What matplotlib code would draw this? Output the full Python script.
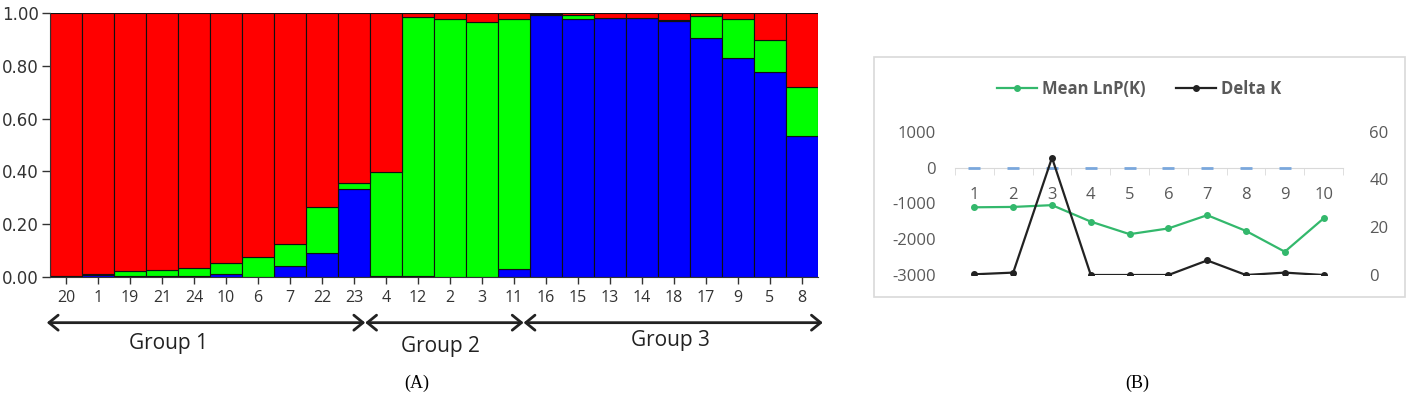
import matplotlib.pyplot as plt
from matplotlib.patches import Rectangle
from matplotlib.lines import Line2D
from matplotlib.ticker import FixedLocator
import numpy as np

# (A) ancestry proportions per sample, K=3
samples = ['20', '1', '19', '21', '24', '10', '6', '7', '22', '23',
           '4', '12', '2', '3', '11',
           '16', '15', '13', '14', '18', '17', '9', '5', '8']
blue_q = [0.003, 0.008, 0.005, 0.003, 0.005, 0.012, 0.0, 0.042, 0.090, 0.332,
          0.005, 0.005, 0.0, 0.0, 0.030,
          0.992, 0.978, 0.980, 0.980, 0.971, 0.906, 0.828, 0.778, 0.535]
green_q = [0.002, 0.002, 0.016, 0.025, 0.028, 0.040, 0.075, 0.082, 0.176, 0.025,
           0.391, 0.978, 0.976, 0.967, 0.946,
           0.003, 0.014, 0.002, 0.002, 0.003, 0.084, 0.148, 0.120, 0.183]
groups = ['Group 1', 'Group 2', 'Group 3']

# (B) Evanno plot
k_values = [1, 2, 3, 4, 5, 6, 7, 8, 9, 10]
mean_lnp = [-1110, -1100, -1050, -1510, -1860, -1700, -1330, -1770, -2350, -1420]
delta_k = [0.3, 1.0, 49.1, 0.0, 0.0, 0.0, 6.1, 0.0, 1.0, 0.0]
zero_series = [0, 0, 0, 0, 0, 0, 0, 0, 0]

W, H = 1413, 399
fig = plt.figure(figsize=(W / 100, H / 100), dpi=100)


def px_axes(x0, y0, x1, y1):
    return fig.add_axes([x0 / W, 1 - y1 / H, (x1 - x0) / W, (y1 - y0) / H])


# ---- panel A ----
blue = np.array(blue_q)
green = np.array(green_q)
red = 1 - blue - green
x = np.arange(len(samples))

ax = px_axes(50, 13, 818, 277)
ax.bar(x, blue, width=1, color='#0000ff', edgecolor='#111111', linewidth=0.8)
ax.bar(x, green, width=1, bottom=blue, color='#00ff00', edgecolor='#111111', linewidth=0.8)
ax.bar(x, red, width=1, bottom=blue + green, color='#ff0000', edgecolor='#111111', linewidth=0.8)
ax.set_xlim(-0.5, len(samples) - 0.5)
ax.set_ylim(0, 1)
ax.set_yticks([0, 0.2, 0.4, 0.6, 0.8, 1.0])
ax.set_yticklabels(['%.2f' % v for v in [0, 0.2, 0.4, 0.6, 0.8, 1.0]],
                   family=['Liberation Sans Narrow', 'DejaVu Sans Condensed', 'DejaVu Sans'],
                   fontsize=12, color='#333333')
ax.set_xticks(x)
ax.set_xticklabels(samples, family='Open Sans', fontsize=11.5, color='#333333')
ax.tick_params(axis='y', length=6, width=1, color='#333333', pad=2)
ax.tick_params(axis='x', length=5, width=1, color='#333333', pad=4)
ax.spines['top'].set_visible(False)
ax.spines['right'].set_visible(False)
ax.spines['left'].set_color('#333333')
ax.spines['bottom'].set_color('#333333')

trans = ax.get_xaxis_transform()
group_edges = [-0.6, 9.35, 14.3, 23.65]
group_label_x = [3.2, 11.7, 18.9]
group_label_y = [-0.25, -0.265, -0.24]
for i, name in enumerate(groups):
    ax.annotate('', xy=(group_edges[i + 1], -0.173), xytext=(group_edges[i], -0.173),
                xycoords=trans, textcoords=trans, annotation_clip=False,
                arrowprops=dict(arrowstyle='<->,head_length=0.55,head_width=0.45',
                                lw=2, color='#222222', mutation_scale=12,
                                shrinkA=0, shrinkB=0))
    ax.text(group_label_x[i], group_label_y[i], name, transform=trans,
            ha='center', va='center', family='Open Sans', fontsize=15, color='#222222')

fig.text(417 / W, 1 - 383 / H, '(A)', ha='center', va='center',
         family='Liberation Serif', fontsize=13)
fig.text(1137 / W, 1 - 383 / H, '(B)', ha='center', va='center',
         family='Liberation Serif', fontsize=13)

# ---- panel B ----
fig.add_artist(Rectangle((874 / W, 1 - 297 / H), 531 / W, 240 / H,
                         transform=fig.transFigure, fill=False,
                         edgecolor='#d9d9d9', linewidth=1.2))

gray = '#595959'
green_line = '#33b86c'
bx = px_axes(955, 131.7, 1343, 275)
bx.plot(k_values[:9], zero_series, linestyle='none', marker='_', markersize=9,
        markeredgewidth=2, color='#7aa7dc', zorder=4, clip_on=False)
bx.plot(k_values, mean_lnp, color=green_line, lw=1.6, marker='o', markersize=4)
bx.set_xlim(0.5, 10.5)
bx.set_ylim(-3000, 1000)
bx.set_yticks([-3000, -2000, -1000, 0, 1000])
bx.set_yticklabels(['-3000', '-2000', '-1000', '0', '1000'])
bx.tick_params(axis='y', length=0, pad=14, labelsize=12, labelcolor=gray)
for s in ['top', 'right', 'left']:
    bx.spines[s].set_visible(False)
bx.spines['bottom'].set_position(('data', 0))
bx.spines['bottom'].set_color('#d9d9d9')
bx.spines['bottom'].set_zorder(1)
bx.set_xticks(k_values)
bx.xaxis.set_minor_locator(FixedLocator(np.arange(0.5, 11, 1)))
bx.tick_params(axis='x', which='major', length=0, pad=14, labelsize=12, labelcolor=gray)
bx.tick_params(axis='x', which='minor', length=5, color='#d9d9d9', direction='out')
for lab in bx.get_xticklabels() + bx.get_yticklabels():
    lab.set_family('Open Sans')

bx2 = bx.twinx()
bx2.plot(k_values, delta_k, color='#222222', lw=1.6, marker='o', markersize=4)
bx2.set_ylim(0, 60)
bx2.set_yticks([0, 20, 40, 60])
bx2.tick_params(axis='y', length=0, pad=19, labelsize=12, labelcolor=gray)
for lab in bx2.get_yticklabels():
    lab.set_family('Open Sans')
for s in bx2.spines.values():
    s.set_visible(False)

handles = [Line2D([], [], color=green_line, lw=1.6, marker='o', markersize=4),
           Line2D([], [], color='#222222', lw=1.6, marker='o', markersize=4)]
leg = fig.legend(handles, ['Mean LnP(K)', 'Delta K'], loc='center',
                 bbox_to_anchor=(1139 / W, 1 - 89 / H), ncol=2, frameon=False,
                 handlelength=2.4, handletextpad=0.3, columnspacing=1.8,
                 prop={'family': 'Open Sans', 'size': 12, 'weight': 'bold'})
for t in leg.get_texts():
    t.set_color(gray)

fig.savefig('out.png', dpi=100)
